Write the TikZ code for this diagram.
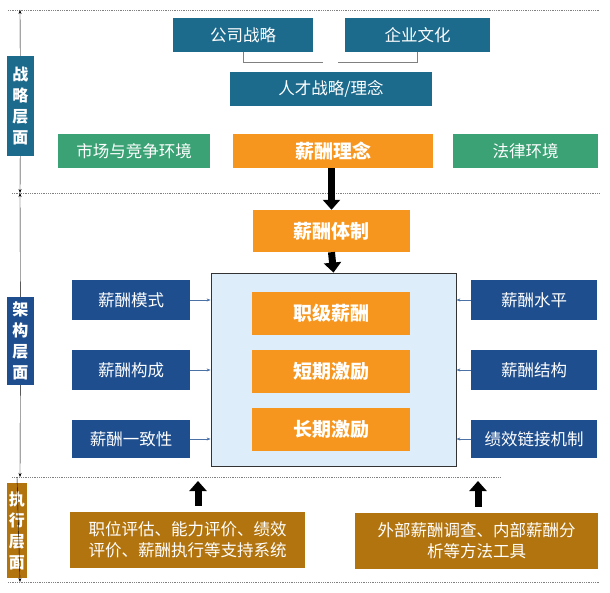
\documentclass[tikz,border=0pt]{standalone}
\usepackage{fontspec}
\setmainfont{Noto Sans CJK SC}
\usetikzlibrary{positioning, arrows.meta}
\definecolor{teal}{HTML}{1C6A8C}
\definecolor{grn}{HTML}{3AA274}
\definecolor{org}{HTML}{F7961E}
\definecolor{navy}{HTML}{1F4E8E}
\definecolor{brn}{HTML}{B2740F}
\definecolor{pale}{HTML}{DDEEFA}
\tikzset{
  box/.style={fill=#1, text=white, inner sep=0pt, font=\fontsize{16.5}{21}\selectfont},
  hot/.style={box=org, font=\bfseries\fontsize{19}{22}\selectfont},
  band/.style={fill=#1, text=white, inner sep=0pt, font=\bfseries\fontsize{16}{21}\selectfont, align=center},
  fat/.style={-{Triangle[width=17pt,length=10pt]}, line width=7pt},
  thin/.style={-{Stealth[length=4pt]}, navy!80, thick},
  sep/.style={densely dotted, gray, thick}
}
\newcommand\pbox[6]{\node[#1, minimum width=#4-#2, minimum height=#5-#3] (#6) at ({(#2+#4)/2},{(#3+#5)/2})}
\begin{document}
\begin{tikzpicture}[x=1pt, y=-1pt]
\useasboundingbox (0,0) rectangle (610,593);
% dotted layer separators
\draw[sep] (8,10) -- (600,10);
\draw[sep] (12,193) -- (600,193);
\draw[sep] (12,477) -- (500,477);
\draw[sep] (8,582) -- (600,582);
% strategy layer
\pbox{box=teal}{173}{18}{313}{52}{gs} {公司战略};
\pbox{box=teal}{345}{18}{490}{52}{qy} {企业文化};
\pbox{box=teal}{230}{72}{432}{106}{rc} {人才战略/理念};
\pbox{box=grn}{58}{134}{210}{168}{sc} {市场与竞争环境};
\pbox{hot}{233}{134}{433}{168}{ln} {薪酬理念};
\pbox{box=grn}{453}{134}{598}{168}{fl} {法律环境};
\draw[gray] (gs.south) |- ++(80,10);
\draw[gray] (qy.south) |- ++(-80,10);
% structure layer
\pbox{hot}{253}{210}{410}{252}{tz} {薪酬体制};
\pbox{draw=black!80, thick, fill=pale}{211}{273}{456}{466}{core} {};
\pbox{hot}{252}{292}{410}{335}{zj} {职级薪酬};
\pbox{hot}{252}{350}{410}{393}{dq} {短期激励};
\pbox{hot}{252}{408}{410}{451}{cq} {长期激励};
\draw[fat] (ln.south -| tz.north) -- (tz.north);
\draw[fat] (tz.south) -- (core.north);
\pbox{box=navy}{72}{280}{190}{320}{l1} {薪酬模式};
\pbox{box=navy}{72}{350}{190}{390}{l2} {薪酬构成};
\pbox{box=navy}{72}{420}{190}{458}{l3} {薪酬一致性};
\pbox{box=navy}{471}{280}{597}{320}{r1} {薪酬水平};
\pbox{box=navy}{471}{350}{597}{390}{r2} {薪酬结构};
\pbox{box=navy}{471}{420}{597}{458}{r3} {绩效链接机制};
\foreach \n in {l1,l2,l3} \draw[thin] (\n.east) -- (\n.east -| core.west);
\foreach \n in {r1,r2,r3} \draw[thin] (\n.west) -- (\n.west -| core.east);
% execution layer
\pbox{box=brn, align=center}{70}{512}{305}{568}{e1} {职位评估、能力评价、绩效\\评价、薪酬执行等支持系统};
\pbox{box=brn, align=center}{355}{513}{598}{569}{e2} {外部薪酬调查、内部薪酬分\\析等方法工具};
\coordinate (u1) at (198,481);
\coordinate (u2) at (478,481);
\draw[fat] (e1.north -| u1) ++(0,-6) -- (u1);
\draw[fat] (e2.north -| u2) ++(0,-6) -- (u2);
% layer bands
\pbox{band=teal}{7}{56}{34}{156}{b1} {战\\略\\层\\面};
\pbox{band=navy}{7}{297}{34}{385}{b2} {架\\构\\层\\面};
\pbox{band=brn}{7}{483}{27}{578}{b3} {执\\行\\层\\面};
\coordinate (t0) at (20,10);
\coordinate (t1) at (20,193);
\coordinate (t2) at (20,477);
\coordinate (t3) at (20,582);
\draw[-{Stealth[length=4pt]}] (b1) -- (t0);
\draw[-{Stealth[length=4pt]}] (b1) -- (t1);
\draw[-{Stealth[length=4pt]}] (b2) -- (t1);
\draw[-{Stealth[length=4pt]}] (b2) -- (t2);
\draw[-{Stealth[length=4pt]}] (b3 |- t2) -- (t3);
\end{tikzpicture}
\end{document}
